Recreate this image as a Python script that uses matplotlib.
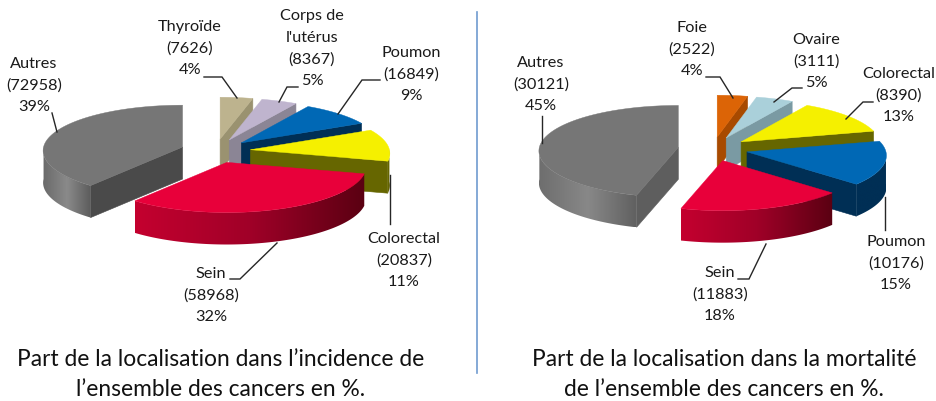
import numpy as np
import matplotlib
matplotlib.use("Agg")
import matplotlib.pyplot as plt
from matplotlib.colors import to_rgb
from matplotlib.patches import Polygon

plt.rcParams["font.family"] = ["Lato", "DejaVu Sans"]

# ===================== DATA =====================
# slices clockwise from 12 o'clock
inc_names = ["Thyroïde", "Corps de\nl'utérus", "Poumon", "Colorectal", "Sein", "Autres"]
inc_counts = [7626, 8367, 16849, 20837, 58968, 72958]
inc_pct = [4, 5, 9, 11, 32, 39]

mor_names = ["Foie", "Ovaire", "Colorectal", "Poumon", "Sein", "Autres"]
mor_counts = [2522, 3111, 8390, 10176, 11883, 30121]
mor_pct = [4, 5, 13, 15, 18, 45]

inc_title = ["Part de la localisation dans l’incidence de", "l’ensemble des cancers en %."]
mor_title = ["Part de la localisation dans la mortalité", "de l’ensemble des cancers en %."]

# ===================== STYLE =====================
# top colour, wall colour, curved wall gradient (left to right)
inc_colors = [
    ("#BDB38E", "#9A9270", ["#A59C78", "#A59C78"]),
    ("#BFB4CE", "#8B8595", ["#8B8595", "#8B8595"]),
    ("#0068B5", "#002F55", ["#002F55", "#002F55"]),
    ("#F5F000", "#666600", ["#666600", "#666600"]),
    ("#E8003A", "#8A0022", ["#C4002F", "#A00028", "#5A0012"]),
    ("#767676", "#4A4A4A", ["#6A6A6A", "#8A8A8A", "#5C5C5C"]),
]
mor_colors = [
    ("#DC6406", "#A84A00", ["#A84A00", "#A84A00"]),
    ("#AAD0DA", "#7A9AA3", ["#7A9AA3", "#7A9AA3"]),
    ("#F5F000", "#666600", ["#666600", "#666600"]),
    ("#0068B5", "#002F55", ["#002F55", "#002F55"]),
    ("#E8003A", "#8A0022", ["#C4002F", "#A00028", "#5A0012"]),
    ("#767676", "#5E5E5E", ["#6E6E6E", "#888888", "#606060"]),
]
inc_order = [0, 1, 2, 3, 5, 4]
mor_order = [0, 1, 2, 3, 5, 4]

inc_text_pos = [(190, 27), (312, 16), (411, 53), (404, 239), (211, 274), (34, 64)]
mor_text_pos = [(692, 28), (816, 40), (899, 74), (896, 242), (720, 273), (541, 63)]

inc_leaders = [
    [(204, 77), (222, 77), (237, 98)],
    [(298, 87), (287, 87), (279, 102)],
    [(380, 80), (362, 80), (338, 114)],
    [(390, 175), (390, 224)],
    [(230, 279), (240, 279), (277, 243)],
    [(52, 113), (57, 132)],
]
mor_leaders = [
    [(706, 77), (720, 77), (733, 98)],
    [(802, 88), (792, 88), (774, 102)],
    [(873, 102), (863, 102), (846, 119)],
    [(885, 197), (885, 230)],
    [(738, 279), (749, 279), (766, 244)],
    [(542, 116), (542, 143)],
]

R = 139
S_R = 46
EXPLODE = 35
EXPLODE_Y = 12
DEPTH = 32
LINE_H = 21.6


def proyectar(apex, theta, radio=1.0):
    """Clockwise angle from the top to screen pixels, with slight perspective."""
    u = radio * np.sin(theta)
    v = -radio * np.cos(theta)
    x = apex[0] + R * u * (1 + 0.08 * v)
    y = apex[1] + S_R * v * (1 + 0.09 * v)
    return x, y


def gradiente(stops, n=256):
    rgb = np.array([to_rgb(c) for c in stops])
    pos = np.linspace(0, 1, len(stops))
    t = np.linspace(0, 1, n)
    return np.dstack([np.interp(t, pos, rgb[:, i]) for i in range(3)])


def dibujar_pie(ax, counts, colors, order, center):
    sweep = np.cumsum([0] + list(counts)) / sum(counts) * 2 * np.pi
    for z, i in enumerate(order):
        t0, t1 = sweep[i], sweep[i + 1]
        top, wall, curve = colors[i]
        tm = (t0 + t1) / 2
        apex = (center[0] + EXPLODE * np.sin(tm), center[1] - EXPLODE_Y * np.cos(tm))
        zb = 2 + z * 2

        # flat walls, only the ones facing the viewer
        for t, visible in [(t0, np.sin(t0) < -0.01), (t1, np.sin(t1) > 0.01)]:
            if visible:
                px, py = proyectar(apex, t)
                ax.fill([apex[0], px, px, apex[0]],
                        [apex[1], py, py + DEPTH, apex[1] + DEPTH],
                        color=wall, lw=0.4, zorder=zb)

        # curved wall, front half only
        a0, a1 = max(t0, np.pi / 2), min(t1, 3 * np.pi / 2)
        if a1 > a0:
            angles = np.linspace(a0, a1, 80)
            xs, ys = proyectar(apex, angles)
            outline = np.c_[np.r_[xs, xs[::-1]], np.r_[ys, ys[::-1] + DEPTH]]
            shape = Polygon(outline, closed=True, transform=ax.transData, fc="none", ec="none")
            ax.add_patch(shape)
            im = ax.imshow(gradiente(curve), aspect="auto", zorder=zb,
                           extent=(xs.min(), xs.max(), ys.max() + DEPTH, ys.min()))
            im.set_clip_path(shape)

        # top face
        angles = np.linspace(t0, t1, 120)
        xs, ys = proyectar(apex, angles)
        ax.fill(np.r_[apex[0], xs], np.r_[apex[1], ys], color=top, lw=0.3, zorder=zb + 1)


def dibujar_textos(ax, names, counts, pct, positions, leaders):
    for name, n, p, pos, pts in zip(names, counts, pct, positions, leaders):
        lines = name.split("\n") + [f"({n})", f"{p}%"]
        for k, line in enumerate(lines):
            ax.text(pos[0], pos[1] + k * LINE_H, line, ha="center", va="center",
                    fontsize=11.7, color="#1A1A1A", zorder=30)
        ax.plot(*zip(*pts), color="#262626", lw=1.0, zorder=29, solid_joinstyle="miter")


# ===================== FIGURE =====================
fig = plt.figure(figsize=(9.37, 4.01), dpi=100)
ax = fig.add_axes([0, 0, 1, 1])

dibujar_pie(ax, inc_counts, inc_colors, inc_order, (215.6, 151))
dibujar_pie(ax, mor_counts, mor_colors, mor_order, (713, 149))
dibujar_textos(ax, inc_names, inc_counts, inc_pct, inc_text_pos, inc_leaders)
dibujar_textos(ax, mor_names, mor_counts, mor_pct, mor_text_pos, mor_leaders)

ax.plot([477, 477], [12, 373], color="#6F9BD0", lw=1.2)

for k, line in enumerate(inc_title):
    ax.text(221, 360 + k * 29, line, ha="center", va="center", fontsize=16.4, color="#111111")
for k, line in enumerate(mor_title):
    ax.text(724, 360 + k * 29, line, ha="center", va="center", fontsize=16.4, color="#111111")

# imshow resets the limits, so set them last
ax.set_xlim(0, 937)
ax.set_ylim(401, 0)
ax.axis("off")

fig.savefig("out.png", dpi=100)
